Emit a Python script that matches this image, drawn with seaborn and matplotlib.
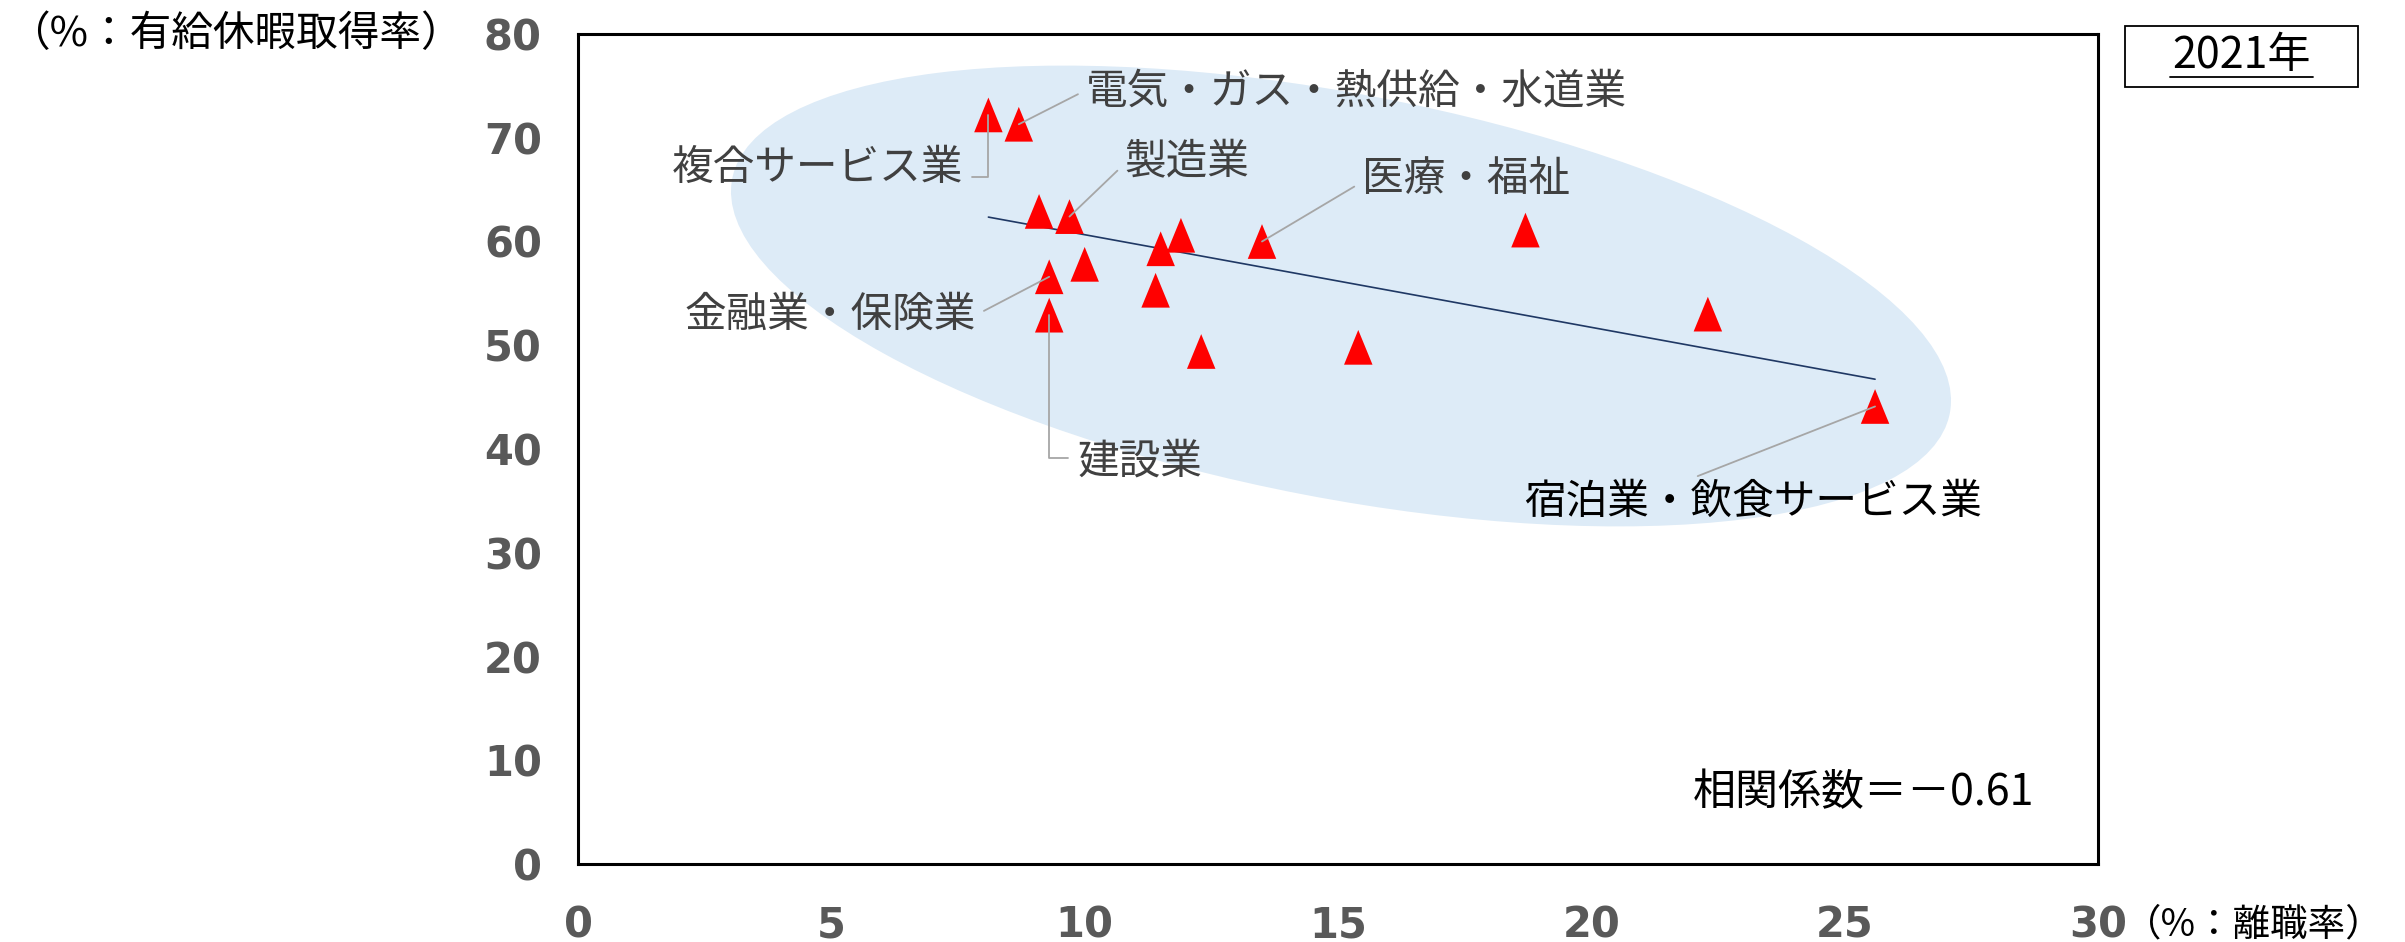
import numpy as np
import pandas as pd
import matplotlib
matplotlib.use("Agg")
import matplotlib.pyplot as plt
import seaborn as sns
from matplotlib.patches import Ellipse, Rectangle
from matplotlib.transforms import IdentityTransform
from matplotlib.lines import Line2D

# ---------------- data ----------------
industry = ["複合サービス事業", "電気・ガス・熱供給・水道業", "情報通信業", "製造業",
            "学術研究・専門技術サービス業", "金融業・保険業", "建設業", "鉱業",
            "運輸業・郵便業", "不動産業・物品賃貸業", "卸売業・小売業", "医療・福祉",
            "教育・学習支援業", "サービス業(他に分類されないもの)",
            "生活関連サービス業・娯楽業", "宿泊業・飲食サービス業"]
turnover = [8.1, 8.7, 9.1, 9.7, 10.0, 9.3, 9.3, 11.5, 11.9, 11.4, 12.3, 13.5, 15.4, 18.7, 22.3, 25.6]
leave = [72.2, 71.3, 62.9, 62.4, 57.8, 56.6, 52.9, 59.3, 60.6, 55.3, 49.4, 60.0, 49.8, 61.1, 53.0, 44.1]
label_text = {"複合サービス事業": "複合サービス業",
              "電気・ガス・熱供給・水道業": "電気・ガス・熱供給・水道業",
              "製造業": "製造業", "医療・福祉": "医療・福祉",
              "金融業・保険業": "金融業・保険業", "建設業": "建設業",
              "宿泊業・飲食サービス業": "宿泊業・飲食サービス業"}
x_ticks = [0, 5, 10, 15, 20, 25, 30]
y_ticks = [0, 10, 20, 30, 40, 50, 60, 70, 80]
corr_text = "相関係数＝－0.61"
year_text = "2021年"
ylab = "（%：有給休暇取得率）"
xlab = "（%：離職率）"

df = pd.DataFrame({"industry": industry, "turnover": turnover, "leave": leave})

# ---------------- layout ----------------
# label placement (data coords), alignment, leader start on text bbox, connection style
label_layout = {
    "複合サービス事業": (7.61, 67.0, "right", (1.0, 0.3), "angle,angleA=0,angleB=90,rad=0"),
    "電気・ガス・熱供給・水道業": (10.03, 74.4, "left", (0.0, 0.55), "arc3"),
    "製造業": (10.79, 67.7, "left", (0.0, 0.45), "arc3"),
    "医療・福祉": (15.48, 65.95, "left", (0.0, 0.45), "arc3"),
    "金融業・保険業": (7.85, 52.9, "right", (1.0, 0.5), "arc3"),
    "建設業": (9.85, 38.7, "left", (0.0, 0.6), "angle,angleA=0,angleB=90,rad=0"),
    "宿泊業・飲食サービス業": (18.67, 34.9, "left", (0.35, 1.0), "arc3"),
}

sns.set_style("white")
plt.rcParams["font.family"] = ["Noto Sans CJK JP", "DejaVu Sans"]

W, H, DPI = 2405, 942, 100
fig = plt.figure(figsize=(W / DPI, H / DPI), dpi=DPI)
L, R, T, B = 578, 2098, 34, 864
ax = fig.add_axes([L / W, 1 - B / H, (R - L) / W, (B - T) / H])

# background ellipse (in output pixels)
ell = Ellipse((1341, H - 296), 1240, 404, angle=-10.9, transform=IdentityTransform(),
              facecolor="#DDEBF7", edgecolor="none", zorder=0.5)
ax.add_patch(ell)

# regression line
sns.regplot(data=df, x="turnover", y="leave", scatter=False, ci=None, truncate=True,
            line_kws=dict(color="#1F3864", lw=1.2, zorder=2), ax=ax)

# triangles
tri = [(0, 1), (-0.82, -1), (0.82, -1)]
sns.scatterplot(data=df, x="turnover", y="leave", marker=tri, s=25 ** 2, color="#FF0000",
                edgecolor="none", linewidth=0, zorder=4, ax=ax, legend=False)

# labels with leader lines
for _, row in df.iterrows():
    name = row["industry"]
    if name not in label_layout:
        continue
    tx, ty, ha, rel, cs = label_layout[name]
    col = "#000000" if name == "宿泊業・飲食サービス業" else "#404040"
    ax.annotate(label_text[name], xy=(row["turnover"], row["leave"]), xytext=(tx, ty),
                ha=ha, va="center", fontsize=30, color=col, zorder=5,
                arrowprops=dict(arrowstyle="-", color="#A6A6A6", lw=1.3, connectionstyle=cs,
                                shrinkA=4, shrinkB=0, relpos=rel), annotation_clip=False)

ax.text(28.73, 6.8, corr_text, ha="right", va="center", fontsize=31, color="#000000", zorder=5)

ax.set_xlim(0, 30)
ax.set_ylim(0, 80)
ax.set_xticks(x_ticks)
ax.set_yticks(y_ticks)
ax.set_xlabel("")
ax.set_ylabel("")
for s in ax.spines.values():
    s.set_visible(True)
    s.set_color("black")
    s.set_linewidth(2.2)
ax.tick_params(axis="both", direction="in", length=7, width=1.5, color="black",
               labelsize=30, labelcolor="#595959")
ax.tick_params(axis="x", pad=29)
ax.tick_params(axis="y", pad=26)
for lab in ax.get_xticklabels() + ax.get_yticklabels():
    lab.set_fontfamily("DejaVu Sans")
    lab.set_fontweight("bold")

# axis unit labels
fig.text(8 / W, 1 - 34 / H, ylab, ha="left", va="center", fontsize=30, color="black")
fig.text(2124 / W, 1 - 925 / H, xlab, ha="left", va="center", fontsize=27, color="black")

# year box
fig.patches.append(Rectangle((2125, H - 87), 233, 61, transform=IdentityTransform(),
                             facecolor="white", edgecolor="black", lw=1.3, figure=fig))
fig.text(2241 / W, 1 - 56 / H, year_text, ha="center", va="center", fontsize=31, color="black")
fig.lines.append(Line2D([2170, 2313], [H - 77, H - 77], transform=IdentityTransform(),
                        color="black", lw=1.3, figure=fig))

fig.savefig("out.png", dpi=DPI)
